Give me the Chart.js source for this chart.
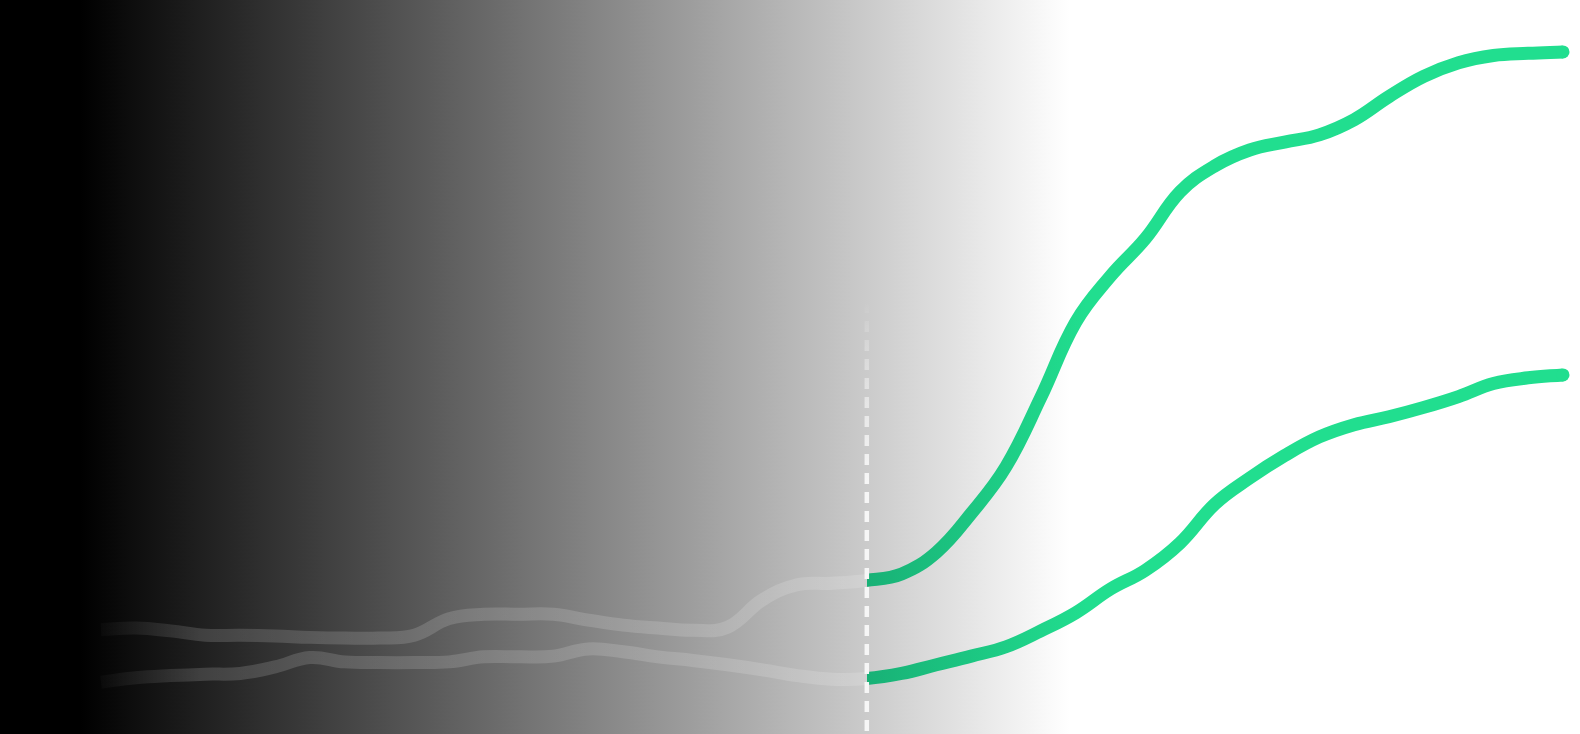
<!DOCTYPE html>
<html>
<head>
<meta charset="utf-8">
<script src="https://cdn.jsdelivr.net/npm/chart.js@4/dist/chart.umd.min.js"></script>
<style>
  html, body { margin: 0; padding: 0; background: #fff; overflow: hidden; }
  #wrap { width: 1580px; height: 734px; position: relative; }
</style>
</head>
<body>
<div id="wrap"><canvas id="trendChart"></canvas></div>
<script>
// periods 0..42, the forecast begins at period 22
const periods = Array.from({ length: 43 }, (_, i) => i);
const forecastStart = 22;

const upperValues = [
  13.6, 13.8, 13.4, 12.8, 12.8, 12.7, 12.5, 12.4, 12.4, 12.8, 15.1,
  15.7, 15.7, 15.7, 14.9, 14.2, 13.8, 13.5, 13.9, 17.7, 19.8, 20.0,
  20.4, 21.3, 24.3, 29.7, 36.2, 45.8, 56.2, 62.6, 67.8, 74.3, 77.9,
  80.1, 81.2, 82.2, 84.3, 87.5, 90.3, 92.2, 93.2, 93.5, 93.7
];

const lowerValues = [
  6.3, 6.9, 7.2, 7.4, 7.5, 8.4, 9.7, 9.1, 9.0, 9.0, 9.1,
  9.8, 9.8, 9.9, 10.9, 10.5, 9.8, 9.3, 8.7, 8.0, 7.2, 6.7,
  6.8, 7.5, 8.7, 9.9, 11.2, 13.4, 15.9, 19.2, 21.8, 25.6, 31.0,
  34.6, 37.7, 40.3, 42.0, 43.1, 44.4, 45.9, 47.7, 48.5, 48.9
];

const greenDark = '#18b176';
const greenLight = '#21de8f';
const pastColor = 'rgba(255,255,255,0.15)';

// one gradient for the whole line: faded history, then green forecast
function lineStroke(c) {
  const chart = c.chart;
  const area = chart.chartArea;
  if (!area) return greenLight;
  const w = chart.width;
  const xs = chart.scales.x.getPixelForValue(forecastStart);
  const g = chart.ctx.createLinearGradient(0, 0, w, 0);
  g.addColorStop(0, 'rgba(255,255,255,0)');
  g.addColorStop((area.left - 15) / w, 'rgba(255,255,255,0)');
  g.addColorStop((area.left + 100) / w, pastColor);
  g.addColorStop(xs / w, pastColor);
  g.addColorStop(xs / w + 0.0001, greenDark);
  g.addColorStop((xs + 220) / w, greenLight);
  g.addColorStop(1, greenLight);
  return g;
}

const backdrop = {
  id: 'backdrop',
  beforeDraw(chart) {
    const { ctx, width, height } = chart;
    const g = ctx.createLinearGradient(0, 0, width, 0);
    g.addColorStop(0, '#000');
    g.addColorStop(80 / width, '#000');
    g.addColorStop(1070 / width, '#fff');
    g.addColorStop(1, '#fff');
    ctx.save();
    ctx.fillStyle = g;
    ctx.fillRect(0, 0, width, height);
    ctx.restore();
  }
};

const todayLine = {
  id: 'todayLine',
  afterDatasetsDraw(chart) {
    const { ctx, chartArea } = chart;
    const x = chart.scales.x.getPixelForValue(forecastStart);
    const top = chartArea.top + chartArea.height * 0.41;
    const g = ctx.createLinearGradient(0, top, 0, top + 180);
    g.addColorStop(0, 'rgba(255,255,255,0)');
    g.addColorStop(1, 'rgba(246,246,246,1)');
    ctx.save();
    ctx.strokeStyle = g;
    ctx.lineWidth = 4.5;
    ctx.setLineDash([11, 8]);
    ctx.beginPath();
    ctx.moveTo(x, top);
    ctx.lineTo(x, chart.height);
    ctx.stroke();
    ctx.restore();
  }
};

function lineDataset(values) {
  return {
    data: values,
    borderWidth: 13,
    borderCapStyle: 'butt',
    borderJoinStyle: 'round',
    tension: 0.4,
    borderColor: lineStroke,
    pointRadius: (c) => (c.dataIndex === values.length - 1 ? 6.5 : 0),
    pointBackgroundColor: greenLight,
    pointBorderWidth: 0,
    pointHoverRadius: 0,
    clip: false
  };
}

new Chart(document.getElementById('trendChart'), {
  type: 'line',
  data: {
    labels: periods,
    datasets: [lineDataset(upperValues), lineDataset(lowerValues)]
  },
  options: {
    responsive: true,
    maintainAspectRatio: false,
    animation: false,
    layout: { padding: { left: 101, right: 17, top: 0, bottom: 0 } },
    plugins: { legend: { display: false }, tooltip: { enabled: false } },
    scales: {
      x: { display: false },
      y: { display: false, min: 0, max: 100 }
    }
  },
  plugins: [backdrop, todayLine]
});
</script>
</body>
</html>
